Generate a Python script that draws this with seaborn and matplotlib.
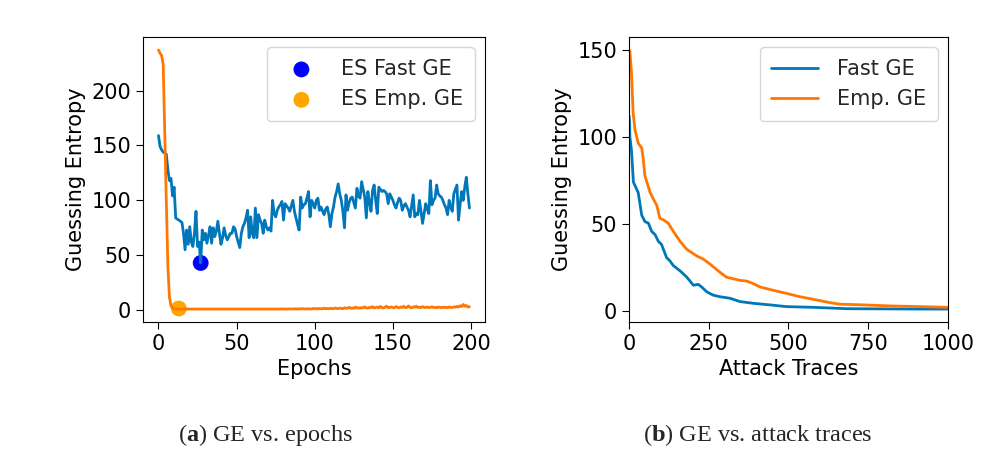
import matplotlib
matplotlib.use("Agg")
import matplotlib.pyplot as plt
import numpy as np
import pandas as pd
import seaborn as sns

# ---- (a) GE vs. epochs ----
fast_ge_epochs = [
    159, 149, 146, 144, 143, 142, 128, 118, 120, 104,
    112, 84, 83, 82, 81, 80, 70, 55, 73, 60,
    76, 62, 58, 70, 90, 58, 62, 43, 73, 64,
    70, 61, 68, 76, 61, 75, 67, 72, 81, 70,
    60, 66, 75, 68, 64, 67, 70, 70, 76, 74,
    67, 62, 57, 70, 76, 79, 84, 91, 66, 85,
    70, 66, 93, 66, 87, 82, 79, 70, 82, 76,
    73, 75, 72, 100, 88, 85, 91, 94, 96, 99,
    82, 97, 95, 93, 90, 95, 100, 90, 84, 78,
    73, 103, 93, 96, 97, 102, 108, 85, 100, 97,
    93, 100, 102, 91, 94, 90, 87, 92, 94, 87,
    76, 88, 94, 103, 108, 115, 106, 100, 90, 75,
    105, 91, 98, 102, 103, 98, 93, 111, 104, 102,
    117, 110, 103, 84, 108, 98, 90, 109, 114, 100,
    88, 112, 110, 108, 109, 108, 106, 97, 106, 103,
    100, 96, 93, 98, 102, 100, 91, 95, 97, 94,
    91, 85, 95, 105, 85, 88, 87, 100, 90, 79,
    88, 97, 92, 88, 118, 96, 100, 102, 114, 106,
    104, 103, 100, 96, 93, 87, 100, 94, 90, 106,
    110, 114, 82, 96, 108, 100, 112, 121, 106, 93,
]
emp_ge_epochs = [
    237, 234, 232, 224, 160, 100, 40, 12, 4, 2,
    1.2, 1.0, 1.0, 1.1, 1.0, 1.0, 1.0, 1.1, 1.0, 1.0,
    1.0, 1.0, 1.1, 1.0, 1.0, 1.0, 1.0, 1.0, 1.1, 1.0,
    1.0, 1.0, 1.0, 1.0, 1.1, 1.0, 1.0, 1.0, 1.0, 1.0,
    1.0, 1.1, 1.0, 1.0, 1.0, 1.0, 1.0, 1.0, 1.1, 1.0,
    1.0, 1.0, 1.0, 1.0, 1.0, 1.1, 1.0, 1.0, 1.0, 1.0,
    1.0, 1.0, 1.0, 1.1, 1.0, 1.0, 1.0, 1.0, 1.0, 1.0,
    1.1, 1.0, 1.0, 1.0, 1.0, 1.0, 1.1, 1.0, 1.0, 1.2,
    1.0, 1.0, 1.1, 1.0, 1.2, 1.0, 1.0, 1.3, 1.0, 1.1,
    1.2, 1.0, 1.4, 1.1, 1.0, 1.3, 1.1, 1.2, 1.0, 1.5,
    1.2, 1.4, 1.1, 1.6, 1.3, 1.2, 1.8, 1.3, 1.5, 1.2,
    1.7, 1.4, 1.3, 2.0, 1.5, 1.4, 1.9, 1.6, 1.3, 2.2,
    1.6, 1.8, 2.5, 1.7, 2.0, 1.6, 2.8, 1.9, 2.2, 1.7,
    2.4, 2.0, 3.0, 2.1, 1.8, 2.6, 2.2, 3.2, 2.0, 2.4,
    2.8, 2.1, 3.4, 2.3, 2.0, 2.7, 3.6, 2.2, 2.5, 3.0,
    2.4, 2.2, 3.3, 2.6, 2.1, 2.9, 2.4, 3.5, 2.3, 2.6,
    3.8, 2.5, 2.2, 3.0, 2.7, 3.6, 2.4, 2.8, 2.3, 3.2,
    2.6, 2.4, 2.9, 2.3, 2.5, 3.1, 2.4, 2.6, 2.2, 2.8,
    2.5, 2.3, 2.7, 2.4, 2.6, 2.2, 2.9, 2.5, 2.4, 3.0,
    2.7, 3.4, 2.8, 4.0, 3.2, 5.2, 3.5, 4.2, 2.9, 3.1,
]
es_fast = (27, 43)
es_emp = (13, 1.5)

# ---- (b) GE vs. attack traces ----
traces_fast = [1, 3, 8, 14, 19, 24, 29, 40, 50, 61, 71, 82, 92, 102, 118, 128,
               139, 160, 181, 202, 217, 228, 244, 264, 285, 317, 348, 390, 442,
               494, 578, 683, 800, 900, 1000]
fast_ge_traces = [112, 100, 92, 74, 72, 70, 68, 55, 51.3, 50.4, 45.7, 43.8, 40,
                  38.2, 30.6, 28.8, 26, 23, 19.4, 14.7, 15.2, 13.7, 10.9, 9, 8.1,
                  7.2, 5.3, 4.3, 3.4, 2.4, 2.0, 1.2, 1.1, 1.0, 1.0]
traces_emp = [1, 3, 8, 13, 19, 29, 40, 45, 50, 66, 76, 87, 97, 108, 123, 139,
              160, 181, 212, 233, 254, 285, 306, 327, 348, 369, 390, 411, 452,
              494, 536, 578, 630, 661, 734, 818, 912, 1000]
emp_ge_traces = [150, 149, 137, 114, 104, 96.4, 93.6, 87, 77.7, 68.2, 64.5, 60.7,
                 53.2, 52.3, 50.4, 45.7, 40, 35.4, 31.6, 29.7, 26.9, 22.2, 19.3,
                 18.4, 17.5, 17.1, 15.6, 13.7, 11.8, 10, 8.1, 6.6, 4.7, 3.8, 3.4,
                 2.8, 2.4, 2.0]

BLUE = "#0077bb"
ORANGE = "#ff7700"

sns.set_style("ticks", {"axes.edgecolor": "black", "xtick.color": "black",
                        "ytick.color": "black", "axes.labelcolor": "black"})
plt.rcParams["font.family"] = ["DejaVu Sans"]
plt.rcParams["font.size"] = 15
plt.rcParams["mathtext.fontset"] = "custom"
plt.rcParams["mathtext.rm"] = "Liberation Serif"
plt.rcParams["mathtext.bf"] = "Liberation Serif:bold"

fig = plt.figure(figsize=(10.06, 4.65), dpi=100)
ax1 = fig.add_axes([0.1421, 0.3075, 0.340, 0.6129])
ax2 = fig.add_axes([0.6252, 0.3075, 0.3171, 0.6129])

df_a = pd.DataFrame({"epoch": np.arange(len(fast_ge_epochs)),
                     "fast": fast_ge_epochs, "emp": emp_ge_epochs})
sns.scatterplot(x=[es_fast[0]], y=[es_fast[1]], ax=ax1, color="blue", s=130,
                edgecolor="none", label="ES Fast GE", zorder=1)
sns.scatterplot(x=[es_emp[0]], y=[es_emp[1]], ax=ax1, color="orange", s=130,
                edgecolor="none", label="ES Emp. GE", zorder=1)
sns.lineplot(data=df_a, x="epoch", y="fast", ax=ax1, color=BLUE, lw=2,
             legend=False, zorder=2)
sns.lineplot(data=df_a, x="epoch", y="emp", ax=ax1, color=ORANGE, lw=2,
             legend=False, zorder=2)
ax1.set_xticks([0, 50, 100, 150, 200])
ax1.set_yticks([0, 50, 100, 150, 200])
ax1.set_xlabel("Epochs")
ax1.set_ylabel("Guessing Entropy")
ax1.legend(loc="upper right", fontsize=15, handletextpad=0.8, borderpad=0.55,
           handlelength=2.2)

sns.lineplot(x=traces_fast, y=fast_ge_traces, ax=ax2, color=BLUE, lw=2,
             label="Fast GE")
sns.lineplot(x=traces_emp, y=emp_ge_traces, ax=ax2, color=ORANGE, lw=2,
             label="Emp. GE")
ax2.set_xlim(0, 1000)
ax2.set_xticks([0, 250, 500, 750, 1000])
ax2.set_yticks([0, 50, 100, 150])
ax2.set_xlabel("Attack Traces")
ax2.set_ylabel("Guessing Entropy")
ax2.legend(loc="upper right", fontsize=15, handlelength=2.25,
           handletextpad=0.9, borderpad=0.55)

for ax in (ax1, ax2):
    ax.tick_params(labelsize=15, length=5)

fig.text(0.264, 0.064, r"($\mathbf{a}$) GE vs. epochs", ha="center", va="center",
         family="Liberation Serif", fontsize=17.5)
fig.text(0.753, 0.064, r"($\mathbf{b}$) GE vs. attack traces", ha="center",
         va="center", family="Liberation Serif", fontsize=17.5)

fig.savefig("out.png", dpi=100)
plt.close(fig)
